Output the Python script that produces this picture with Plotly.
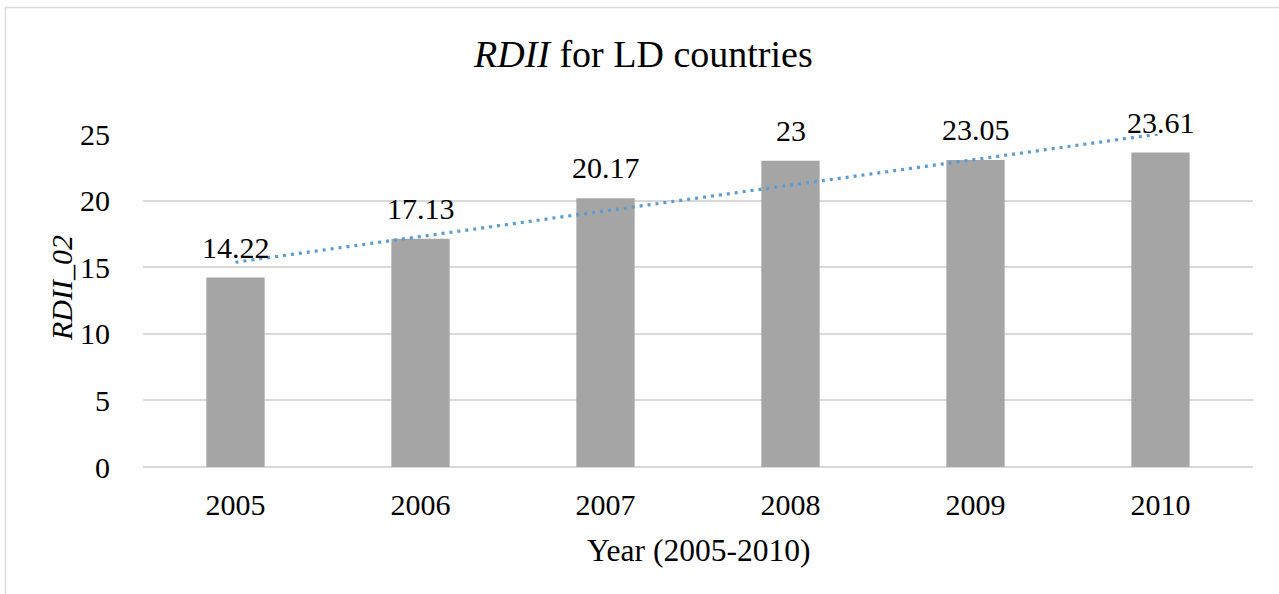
import numpy as np
import plotly.graph_objects as go

# RDII_02 for LD countries, 2005-2010
years = ["2005", "2006", "2007", "2008", "2009", "2010"]
rdii = [14.22, 17.13, 20.17, 23, 23.05, 23.61]
y_ticks = [0, 5, 10, 15, 20, 25]

W, H = 1279, 594
L, R, T, B = 143, 26, 134, 127
PW, PH = W - L - R, H - T - B


def px_x(p):
    return (p - L) / PW


def px_y(p):
    return (H - B - p) / PH


FONT = "Liberation Serif"
GRID = "#D9D9D9"

pos = list(range(len(years)))

# linear trend line fitted to the series
idx = np.arange(1, len(rdii) + 1)
slope, intercept = np.polyfit(idx, rdii, 1)
trend = (slope * idx + intercept).tolist()

fig = go.Figure()
fig.add_trace(go.Bar(
    x=pos, y=rdii, width=0.315, marker=dict(color="#A5A5A5", line=dict(width=0)),
    showlegend=False, hovertext=years, hoverinfo="text+y",
))
fig.add_trace(go.Scatter(
    x=pos, y=trend, mode="lines",
    line=dict(color="#5B9BD5", width=3.2, dash="3px,5px"),
    showlegend=False, hoverinfo="skip",
))

annotations = []
for p, v in zip(pos, rdii):
    annotations.append(dict(
        x=p, y=v, xref="x", yref="y", text=f"{v:g}", showarrow=False,
        xanchor="center", yanchor="bottom", yshift=12,
        font=dict(family=FONT, size=30, color="#000"),
    ))

annotations += [
    dict(x=px_x(643), y=px_y(54), xref="paper", yref="paper",
         text="<i>RDII</i> for LD countries", showarrow=False,
         xanchor="center", yanchor="middle",
         font=dict(family=FONT, size=38, color="#000")),
    dict(x=0.5, y=px_y(550), xref="paper", yref="paper",
         text="Year (2005-2010)", showarrow=False,
         xanchor="center", yanchor="middle",
         font=dict(family=FONT, size=31.5, color="#000")),
    dict(x=px_x(61), y=px_y(288), xref="paper", yref="paper",
         text="<i>RDII_02</i>", showarrow=False, textangle=-90,
         xanchor="center", yanchor="middle",
         font=dict(family=FONT, size=30, color="#000")),
]

fig.update_layout(
    width=W, height=H,
    margin=dict(l=L, r=R, t=T, b=B),
    paper_bgcolor="white", plot_bgcolor="white",
    annotations=annotations,
    shapes=[dict(type="rect", xref="paper", yref="paper",
                 x0=px_x(5.5), x1=px_x(1300), y0=px_y(620), y1=px_y(7.5),
                 line=dict(color=GRID, width=1.5), fillcolor="rgba(0,0,0,0)",
                 layer="below")],
    font=dict(family=FONT, size=30, color="#000"),
)
fig.update_xaxes(
    range=[-0.5, len(years) - 0.5], tickvals=pos, ticktext=years,
    showgrid=False, showline=False, zeroline=False,
    ticks="outside", ticklen=11, tickcolor="rgba(0,0,0,0)",
    tickfont=dict(family=FONT, size=30, color="#000"),
)
fig.update_yaxes(
    range=[0, 25], tickvals=y_ticks, showgrid=True, gridcolor=GRID, gridwidth=1.5,
    zeroline=True, zerolinecolor=GRID, zerolinewidth=1.5, showline=False,
    ticks="outside", ticklen=26, tickcolor="rgba(0,0,0,0)",
    tickfont=dict(family=FONT, size=30, color="#000"),
)

fig.write_html("out.html")
